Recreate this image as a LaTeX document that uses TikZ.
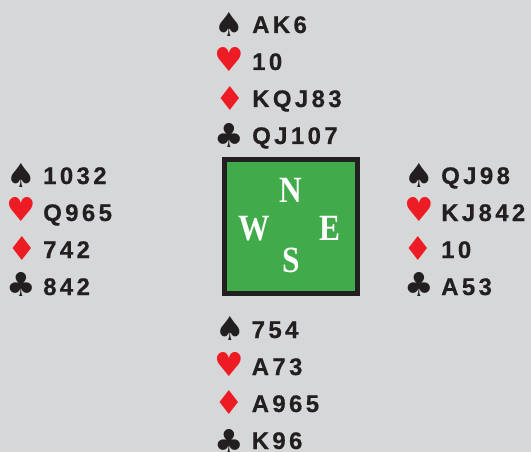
\documentclass[tikz,border=0pt]{standalone}
\usepackage{fontspec}
\setmainfont{Liberation Sans}
\newfontfamily\cardfont[LetterSpace=14,FakeBold=0.5]{Liberation Sans}
\newfontfamily\symfont{DejaVu Sans}
\newfontfamily\dirfont{Liberation Serif}
\definecolor{bg}{RGB}{214,215,217}
\definecolor{ink}{RGB}{35,31,32}
\definecolor{cardred}{RGB}{237,28,36}
\definecolor{boardgreen}{RGB}{65,170,74}
\tikzset{
  cardtxt/.style={anchor=base west, inner sep=0pt, text=ink,
    font=\cardfont\bfseries\fontsize{24}{24}\selectfont},
  suit/.style={inner sep=0pt, font=\symfont\fontsize{33}{33}\selectfont},
  blk/.style={suit, text=ink},
  rd/.style={suit, text=cardred},
  dirl/.style={inner sep=0pt, text=white,
    font=\dirfont\bfseries\fontsize{37}{37}\selectfont},
}
\newcommand{\nrw}[1]{\scalebox{0.85}[1]{#1}}
\begin{document}
\begin{tikzpicture}[x=1pt,y=-1pt]
\fill[bg] (0,0) rectangle (531,452);
\useasboundingbox (0,0) rectangle (531,452);
% board
\node[draw=ink, line width=5pt, fill=boardgreen, minimum size=133.5pt, inner sep=0pt] (board) at (290.8,226.7) {};
\node[dirl] (dn) at (291,190.8) {\nrw{N}};
\node[dirl] (dw) at (254.7,229) {\nrw{W}};
\node[dirl] (de) at (330,228.7) {\nrw{E}};
\node[dirl] (ds) at (291,260.8) {\nrw{S}};
% North
\node[blk] (ns) at (229.7,24.2) {♠};
\node[rd]  (nh) at (229.7,59.2) {♥};
\node[rd]  (nd) at (230,98.3) {♦};
\node[blk] (nc) at (229.7,135) {♣};
\node[cardtxt] (nst) at (252,33) {AK6};
\node[cardtxt] (nht) at (252,70) {10};
\node[cardtxt] (ndt) at (252,107) {KQJ83};
\node[cardtxt] (nct) at (252,144) {QJ107};
% West
\node[blk] (ws) at (21.7,175.5) {♠};
\node[rd]  (wh) at (21.7,209.5) {♥};
\node[rd]  (wd) at (22,248) {♦};
\node[blk] (wc) at (21.2,284.8) {♣};
\node[cardtxt] (wst) at (43,184) {1032};
\node[cardtxt] (wht) at (43,221) {Q965};
\node[cardtxt] (wdt) at (43,258) {742};
\node[cardtxt] (wct) at (43,295) {842};
% East
\node[blk] (es) at (419,175.5) {♠};
\node[rd]  (eh) at (419,209.5) {♥};
\node[rd]  (ed) at (418,248) {♦};
\node[blk] (ec) at (419.5,284.8) {♣};
\node[cardtxt] (est) at (441,184) {QJ98};
\node[cardtxt] (eht) at (441,221) {KJ842};
\node[cardtxt] (edt) at (441,258) {10};
\node[cardtxt] (ect) at (441,295) {A53};
% South
\node[blk] (ss) at (230.5,328) {♠};
\node[rd]  (sh) at (229.7,364.7) {♥};
\node[rd]  (sd) at (229.5,402) {♦};
\node[blk] (sc) at (229.5,441) {♣};
\node[cardtxt] (sst) at (251.5,338) {754};
\node[cardtxt] (sht) at (251.5,375) {A73};
\node[cardtxt] (sdt) at (251.5,412) {A965};
\node[cardtxt] (sct) at (251.5,449) {K96};
\end{tikzpicture}
\end{document}
